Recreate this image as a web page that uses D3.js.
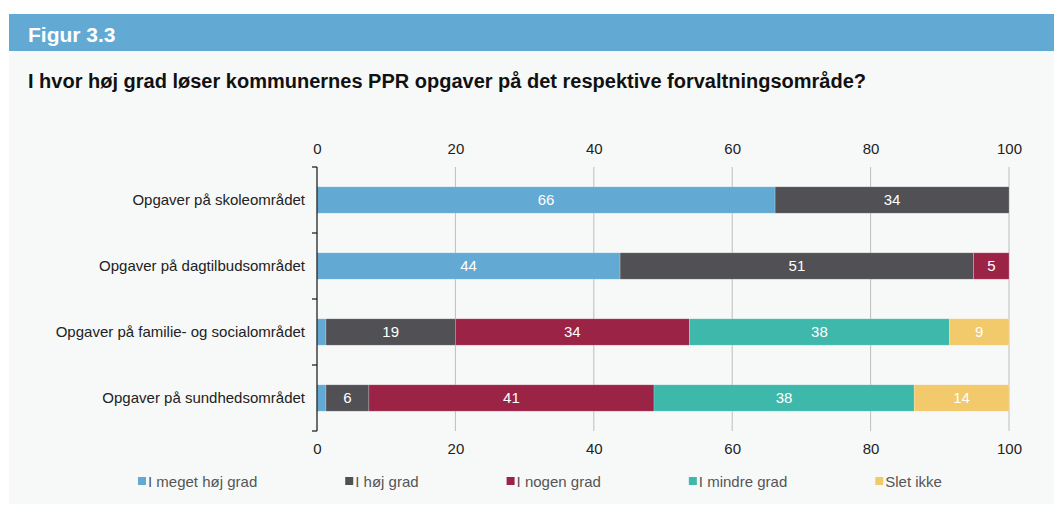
<!DOCTYPE html>
<html>
<head>
<meta charset="utf-8">
<script src="https://cdn.jsdelivr.net/npm/d3@7"></script>
<style>
	body { margin: 0; background: #fff; font-family: "Liberation Sans", Arial, sans-serif; }
	svg { display: block; }
</style>
</head>
<body>
<div id="chart"></div>
<script>
// categories (top to bottom)
var categories = [
	"Opgaver på skoleområdet",
	"Opgaver på dagtilbudsområdet",
	"Opgaver på familie- og socialområdet",
	"Opgaver på sundhedsområdet"
];

// series names and colours
var seriesNames = ["I meget høj grad", "I høj grad", "I nogen grad", "I mindre grad", "Slet ikke"];
var seriesColors = ["#62a9d4", "#505055", "#9b2346", "#3fb8ac", "#f2c96b"];

// percentages per series, one value per category
var megetHoj = [66.2, 43.8, 1.3, 1.3];
var hoj = [33.8, 51.1, 18.7, 6.2];
var nogen = [0, 5.1, 33.8, 41.2];
var mindre = [0, 0, 37.6, 37.6];
var sletIkke = [0, 0, 8.6, 13.7];

var xTicks = [0, 20, 40, 60, 80, 100];

var seriesValues = [megetHoj, hoj, nogen, mindre, sletIkke];

var W = 1054, H = 505;
var svg = d3.select("#chart").append("svg")
	.attr("width", W)
	.attr("height", H);

// panel + header band
svg.append("rect").attr("x", 9).attr("y", 14).attr("width", W - 9).attr("height", 490).attr("fill", "#f7f9f9");
svg.append("rect").attr("x", 9).attr("y", 14).attr("width", W - 9).attr("height", 37).attr("fill", "#62a9d4");
svg.append("text").attr("x", 28).attr("y", 42)
	.attr("fill", "#fff").attr("font-weight", "bold").attr("font-size", 21)
	.text("Figur 3.3");
svg.append("text").attr("x", 28).attr("y", 88)
	.attr("fill", "#111").attr("font-weight", "bold").attr("font-size", 20)
	.text("I hvor høj grad løser kommunernes PPR opgaver på det respektive forvaltningsområde?");

var x = d3.scaleLinear().domain([0, 100]).range([317, 1009]);
var y = d3.scaleBand().domain(categories).range([167, 431]).paddingInner(0.6).paddingOuter(0.3);

// gridlines
svg.append("g").selectAll("line")
	.data(xTicks.slice(1))
	.join("line")
	.attr("x1", d => x(d)).attr("x2", d => x(d))
	.attr("y1", 167).attr("y2", 431)
	.attr("stroke", "#bdbdbd").attr("stroke-width", 1);

// stacked data
var stacked = categories.map((c, i) => {
	var acc = 0;
	return seriesValues.map((s, k) => {
		var seg = { cat: c, k: k, v: s[i], x0: acc, x1: acc + s[i] };
		acc += s[i];
		return seg;
	}).filter(d => d.v > 0);
});

var rows = svg.append("g").selectAll("g")
	.data(stacked)
	.join("g");

rows.selectAll("rect")
	.data(d => d)
	.join("rect")
	.attr("x", d => x(d.x0))
	.attr("y", d => y(d.cat))
	.attr("width", d => x(d.x1) - x(d.x0))
	.attr("height", y.bandwidth())
	.attr("fill", d => seriesColors[d.k])
	.attr("stroke", "rgba(255,255,255,0.35)")
	.attr("stroke-width", 0.6);

rows.selectAll("text")
	.data(d => d.filter(s => s.v >= 3))
	.join("text")
	.attr("x", d => (x(d.x0) + x(d.x1)) / 2)
	.attr("y", d => y(d.cat) + y.bandwidth() / 2 + 5)
	.attr("text-anchor", "middle")
	.attr("fill", "#fff")
	.attr("font-size", 15)
	.text(d => Math.round(d.v));

// axes
var topAxis = svg.append("g").attr("transform", "translate(0,157)")
	.call(d3.axisTop(x).tickValues(xTicks).tickSize(0).tickPadding(0));
var bottomAxis = svg.append("g").attr("transform", "translate(0,439)")
	.call(d3.axisBottom(x).tickValues(xTicks).tickSize(0).tickPadding(0));
[topAxis, bottomAxis].forEach(a => {
	a.select(".domain").remove();
	a.selectAll("text").attr("font-size", 15).attr("fill", "#222")
		.attr("font-family", "'Liberation Sans', Arial, sans-serif");
});
bottomAxis.selectAll("text").attr("dy", "1em");
topAxis.selectAll("text").attr("dy", "-0.2em");

// left axis line with ticks between categories
var left = svg.append("g");
left.append("line").attr("x1", 317).attr("x2", 317).attr("y1", 167).attr("y2", 431)
	.attr("stroke", "#222").attr("stroke-width", 1.3);
var bounds = [167].concat(categories.map(c => y(c) + y.bandwidth() + y.step() * y.paddingInner() / 2));
bounds[bounds.length - 1] = 431;
left.selectAll(".tk")
	.data(bounds)
	.join("line")
	.attr("x1", 312).attr("x2", 317)
	.attr("y1", d => d).attr("y2", d => d)
	.attr("stroke", "#222").attr("stroke-width", 1.3);

// category labels
svg.append("g").selectAll("text")
	.data(categories)
	.join("text")
	.attr("x", 305)
	.attr("y", d => y(d) + y.bandwidth() / 2 + 5)
	.attr("text-anchor", "end")
	.attr("font-size", 15)
	.attr("fill", "#222")
	.text(d => d);

// legend, laid out by measured text width
var legend = svg.append("g");
var lx = 138;
seriesNames.forEach((name, k) => {
	legend.append("rect").attr("x", lx).attr("y", 477).attr("width", 8).attr("height", 8)
		.attr("fill", seriesColors[k]);
	var t = legend.append("text").attr("x", lx + 10).attr("y", 487)
		.attr("font-size", 15).attr("fill", "#555")
		.text(name);
	lx += 11 + t.node().getComputedTextLength() + 87;
});
</script>
</body>
</html>
